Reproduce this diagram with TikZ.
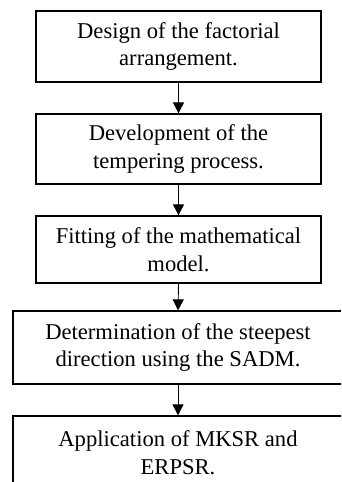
\documentclass[tikz,border=0pt]{standalone}
\usepackage{fontspec}
\setmainfont{Liberation Serif}
\usetikzlibrary{arrows.meta}
\begin{document}
\begin{tikzpicture}[x=1pt,y=-1pt,
  stepbox/.style={draw=black,line width=1.3pt,fill=white,align=center,
    inner sep=0pt,font=\fontsize{22.6}{27.4}\selectfont},
  flow/.style={line width=0.9pt,-{Triangle[width=11pt,length=11pt]}}]
\useasboundingbox (0,0) rectangle (341,482);
\clip (0,0) rectangle (341,482);
\fill[white] (0,0) rectangle (341,482);
\node[stepbox,minimum width=285pt,minimum height=71pt] (b1) at (178.5,46.5)
  {Design of the factorial\\arrangement.};
\node[stepbox,minimum width=285pt,minimum height=70pt] (b2) at (178.5,149)
  {Development of the\\tempering process.};
\node[stepbox,minimum width=285pt,minimum height=67pt] (b3) at (178.5,249.5)
  {Fitting of the mathematical\\model.};
\node[stepbox,minimum width=330pt,minimum height=73pt] (b4) at (178,347.5)
  {Determination of the steepest\\direction using the SADM.};
\node[stepbox,minimum width=330pt,minimum height=73pt] (b5) at (178,452.5)
  {Application of MKSR and\\ERPSR.};
\draw[flow] (b1.south) -- (b2.north);
\draw[flow] (b2.south) -- (b3.north);
\draw[flow] (b3.south) -- (b4.north);
\draw[flow] (b4.south) -- (b5.north);
\end{tikzpicture}
\end{document}
